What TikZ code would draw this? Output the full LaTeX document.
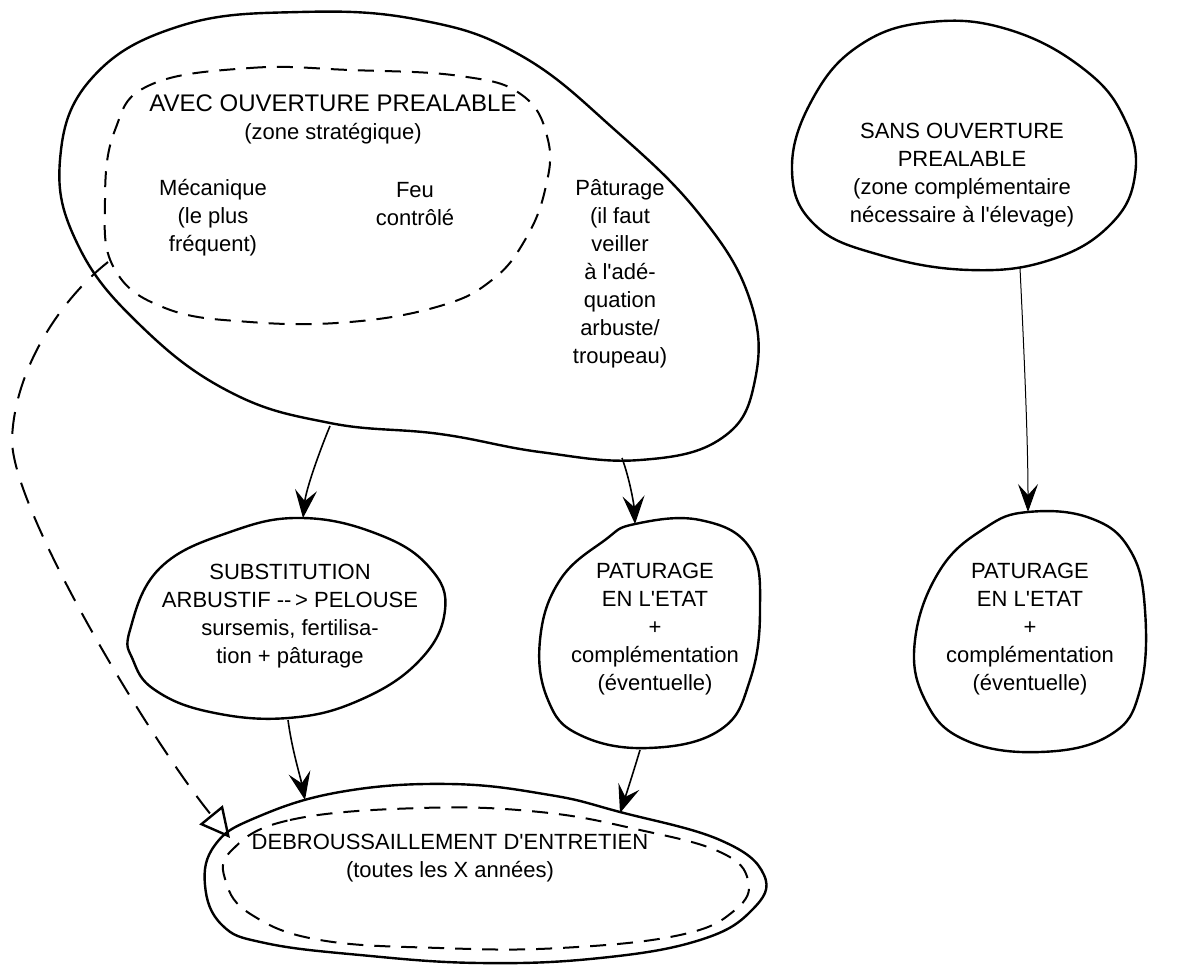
\documentclass[tikz,border=0pt]{standalone}
\usepackage{fontspec}
\newfontfamily\plainfont{Liberation Sans}
\usetikzlibrary{arrows.meta}
\tikzset{
  txt/.style={align=center, inner sep=0pt, font=\plainfont\fontsize{22}{28}\selectfont},
  blob/.style={line width=2.4pt, line join=round},
  dblob/.style={line width=2pt, dash pattern=on 16pt off 11pt},
  flow/.style={line width=1.6pt, -{Stealth[length=28pt,width=22pt,inset=11pt]}},
  thinflow/.style={line width=1pt, -{Stealth[length=28pt,width=20pt,inset=11pt]}},
  dflow/.style={line width=2pt, dash pattern=on 22pt off 14pt, -{Triangle[open,length=30pt,width=30pt,line width=2.4pt]}}
}
\begin{document}
\begin{tikzpicture}[x=1pt,y=-1pt]
\useasboundingbox (0,0) rectangle (1200,978);

% --- blobs ---
% A (solid)
\draw[blob] plot[smooth cycle, tension=0.7] coordinates {
 (300,12) (420,20) (520,55) (615,130) (700,215) (750,300) (755,380) (722,438)
 (640,460) (540,452) (440,434) (330,423) (230,392) (140,325) (78,245) (60,160) (92,78) (180,26)};
% A inner (dashed)
\draw[dblob] plot[smooth cycle, tension=0.7] coordinates {
 (150,85) (250,68) (350,70) (460,76) (522,95) (548,140) (545,190) (525,240)
 (492,280) (440,306) (350,322) (250,322) (165,308) (114,268) (105,200) (115,130)};
% S
\draw[blob] plot[smooth cycle, tension=0.7] coordinates {
 (792,170) (812,100) (860,45) (930,22) (1010,30) (1085,70) (1125,120) (1135,175)
 (1110,225) (1050,260) (970,270) (880,255) (815,225)};
% B
\draw[blob] plot[smooth cycle, tension=0.7] coordinates {
 (130,630) (160,568) (230,532) (303,518) (380,535) (430,568) (445,610) (420,660)
 (360,700) (288,718) (210,712) (155,690) (133,660)};
% C
\draw[blob] plot[smooth cycle, tension=0.7] coordinates {
 (540,640) (560,580) (605,540) (635,524) (700,520) (750,548) (760,610) (750,680)
 (720,730) (648,748) (580,735) (548,700)};
% D
\draw[blob] plot[smooth cycle, tension=0.7] coordinates {
 (915,640) (940,570) (985,528) (1028,512) (1090,518) (1130,550) (1145,610) (1140,690)
 (1110,735) (1040,752) (965,740) (925,700)};
% E solid
\draw[blob] plot[smooth cycle, tension=0.7] coordinates {
 (215,845) (255,818) (340,792) (450,784) (550,795) (620,812) (720,840) (764,875)
 (752,910) (700,940) (600,958) (480,963) (360,955) (265,943) (222,925) (205,885)};
% E dashed
\draw[dblob] plot[smooth cycle, tension=0.7] coordinates {
 (232,850) (290,820) (420,808) (540,812) (640,830) (720,852) (748,880) (735,910)
 (680,935) (560,948) (440,948) (320,940) (252,915) (226,882)};

% --- texts ---
\node[txt] (avec) at (333,119) {{\fontsize{24}{28}\selectfont AVEC OUVERTURE PREALABLE}\\(zone stratégique)};
\node[txt] (meca) at (213,218) {Mécanique\\(le plus\\fréquent)};
\node[txt] (feu) at (415,204) {Feu\\contrôlé};
\node[txt] (patu) at (620,274) {Pâturage\\(il faut\\veiller\\à l'adé-\\quation\\arbuste/\\troupeau)};
\node[txt] (sans) at (962,175) {SANS OUVERTURE\\PREALABLE\\(zone complémentaire\\nécessaire à l'élevage)};
\node[txt] (subs) at (290,616) {SUBSTITUTION\\ARBUSTIF -{}-\,> PELOUSE\\sursemis, fertilisa-\\tion + pâturage};
\node[txt] (pet1) at (655,629) {PATURAGE\\EN L'ETAT\\+\\complémentation\\(éventuelle)};
\node[txt] (pet2) at (1030,629) {PATURAGE\\EN L'ETAT\\+\\complémentation\\(éventuelle)};
\node[txt] (debr) at (450,858) {DEBROUSSAILLEMENT D'ENTRETIEN\\(toutes les X années)};

% --- connector end points ---
\coordinate (aOutB) at (330,426);
\coordinate (bIn) at (303,518);
\coordinate (aOutC) at (622,458);
\coordinate (cIn) at (635,524);
\coordinate (sOut) at (1020,268);
\coordinate (dIn) at (1028,512);
\coordinate (bOut) at (288,720);
\coordinate (eInB) at (305,800);
\coordinate (cOut) at (640,750);
\coordinate (eInC) at (620,813);
\coordinate (dashStart) at (108,262);
\coordinate (eInD) at (230,838);

% --- connectors ---
\draw[flow] (aOutB) .. controls (318,455) and (306,490) .. (bIn);
\draw[flow] (aOutC) .. controls (630,480) and (634,505) .. (cIn);
\draw[thinflow] (sOut) .. controls (1024,350) and (1028,440) .. (dIn);
\draw[flow] (bOut) .. controls (292,750) and (300,775) .. (eInB);
\draw[flow] (cOut) .. controls (634,770) and (626,795) .. (eInC);
\draw[dflow] (dashStart) .. controls (60,300) and (14,370) .. (12,440)
  .. controls (12,510) and (150,740) .. (eInD);
\end{tikzpicture}
\end{document}
